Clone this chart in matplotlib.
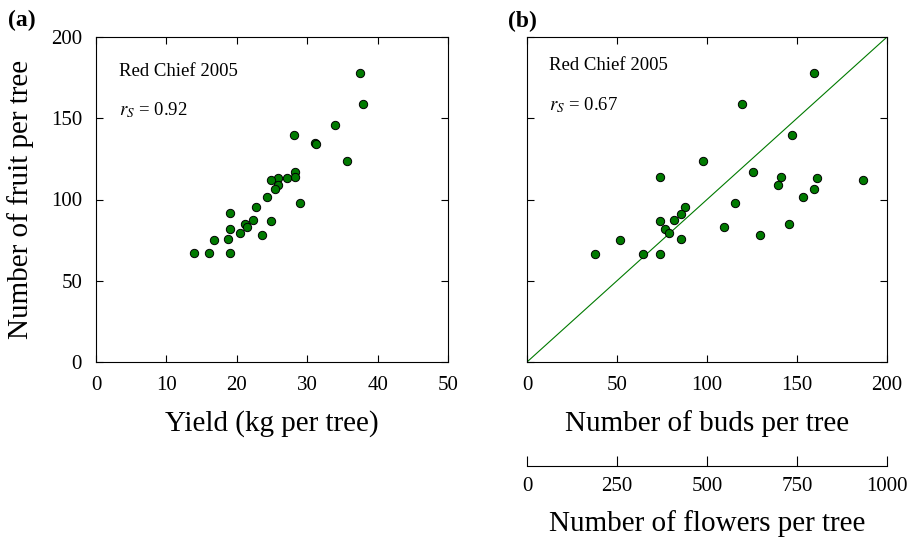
import matplotlib
matplotlib.use("Agg")
import matplotlib.pyplot as plt

plt.rcParams['font.family'] = ['Liberation Serif', 'DejaVu Serif']
plt.rcParams['mathtext.fontset'] = 'stix'

# panel (a): yield vs fruit
yield_kg = [37.5, 37.9, 34.0, 28.1, 31.1, 31.3, 35.7, 28.3, 28.3, 27.2,
            25.8, 24.9, 25.8, 25.4, 24.3, 29.0, 22.7, 19.0, 24.9, 22.3,
            21.2, 21.5, 19.1, 20.5, 23.6, 16.8, 18.8, 13.9, 16.0, 19.1]
fruit_a = [177.8, 158.9, 145.9, 139.8, 135.0, 134.2, 123.7, 116.8, 113.9, 113.5,
           113.1, 112.0, 109.1, 106.7, 101.5, 97.8, 95.4, 91.5, 86.5, 87.2,
           85.1, 83.2, 82.0, 79.1, 78.3, 75.0, 75.8, 66.8, 66.8, 66.8]

# panel (b): buds vs fruit
buds = [159.3, 119.5, 147.1, 97.6, 73.7, 125.4, 141.2, 139.4, 161.3, 186.9,
        159.3, 153.4, 115.3, 87.7, 85.5, 81.6, 73.7, 145.3, 109.6, 76.6,
        78.8, 129.5, 85.5, 51.9, 37.8, 64.6, 73.7]
fruit_b = [178.0, 158.9, 139.8, 123.6, 114.0, 116.9, 113.6, 109.1, 113.2, 112.0,
           106.7, 101.6, 97.8, 95.3, 91.3, 87.2, 86.6, 85.2, 83.3, 82.1,
           79.1, 78.3, 76.0, 75.0, 66.7, 66.7, 66.7]

green = '#007a00'
W, H = 915, 540

fig = plt.figure(figsize=(W / 100, H / 100), dpi=100)
axa = fig.add_axes([96 / W, 1 - 362 / H, 352 / W, 325 / H])
axb = fig.add_axes([527 / W, 1 - 362 / H, 360 / W, 325 / H])

for ax in (axa, axb):
    ax.tick_params(direction='in', top=True, right=True, length=5, width=0.8,
                   labelsize=15, pad=10)
    for s in ax.spines.values():
        s.set_linewidth(0.8)
    ax.set_ylim(0, 200)
    ax.set_yticks([0, 50, 100, 150, 200])

axa.plot(yield_kg, fruit_a, 'o', color=green, mec='black', mew=0.7, ms=6)
axa.set_xlim(0, 50)
axa.set_xticks([0, 10, 20, 30, 40, 50])
axa.set_xlabel('Yield (kg per tree)', fontsize=21, labelpad=11)
axa.set_ylabel('Number of fruit per tree', fontsize=21, labelpad=12)
axa.text(0.065, 0.88, 'Red Chief 2005', transform=axa.transAxes, fontsize=13.5)
axa.text(0.065, 0.76, r'$r_S$ = 0.92', transform=axa.transAxes, fontsize=13.5)

axb.plot([0, 200], [0, 200], '-', color=green, lw=0.8)
axb.plot(buds, fruit_b, 'o', color=green, mec='black', mew=0.7, ms=6)
axb.set_xlim(0, 200)
axb.set_xticks([0, 50, 100, 150, 200])
axb.tick_params(labelleft=False)
axb.set_xlabel('Number of buds per tree', fontsize=21, labelpad=11)
axb.text(0.06, 0.9, 'Red Chief 2005', transform=axb.transAxes, fontsize=13.5)
axb.text(0.06, 0.775, r'$r_S$ = 0.67', transform=axb.transAxes, fontsize=13.5)

sec = axb.secondary_xaxis(-0.32, functions=(lambda x: x * 5, lambda x: x / 5))
sec.set_xticks([0, 250, 500, 750, 1000])
sec.tick_params(direction='in', length=7, width=0.8, labelsize=15, pad=8)
sec.spines['bottom'].set_linewidth(0.8)
sec.set_xlabel('Number of flowers per tree', fontsize=21, labelpad=10)

fig.text(8 / W, 1 - 26 / H, '(a)', fontsize=17, fontweight='bold')
fig.text(508 / W, 1 - 27 / H, '(b)', fontsize=17, fontweight='bold')

fig.savefig('out.png', dpi=100)
